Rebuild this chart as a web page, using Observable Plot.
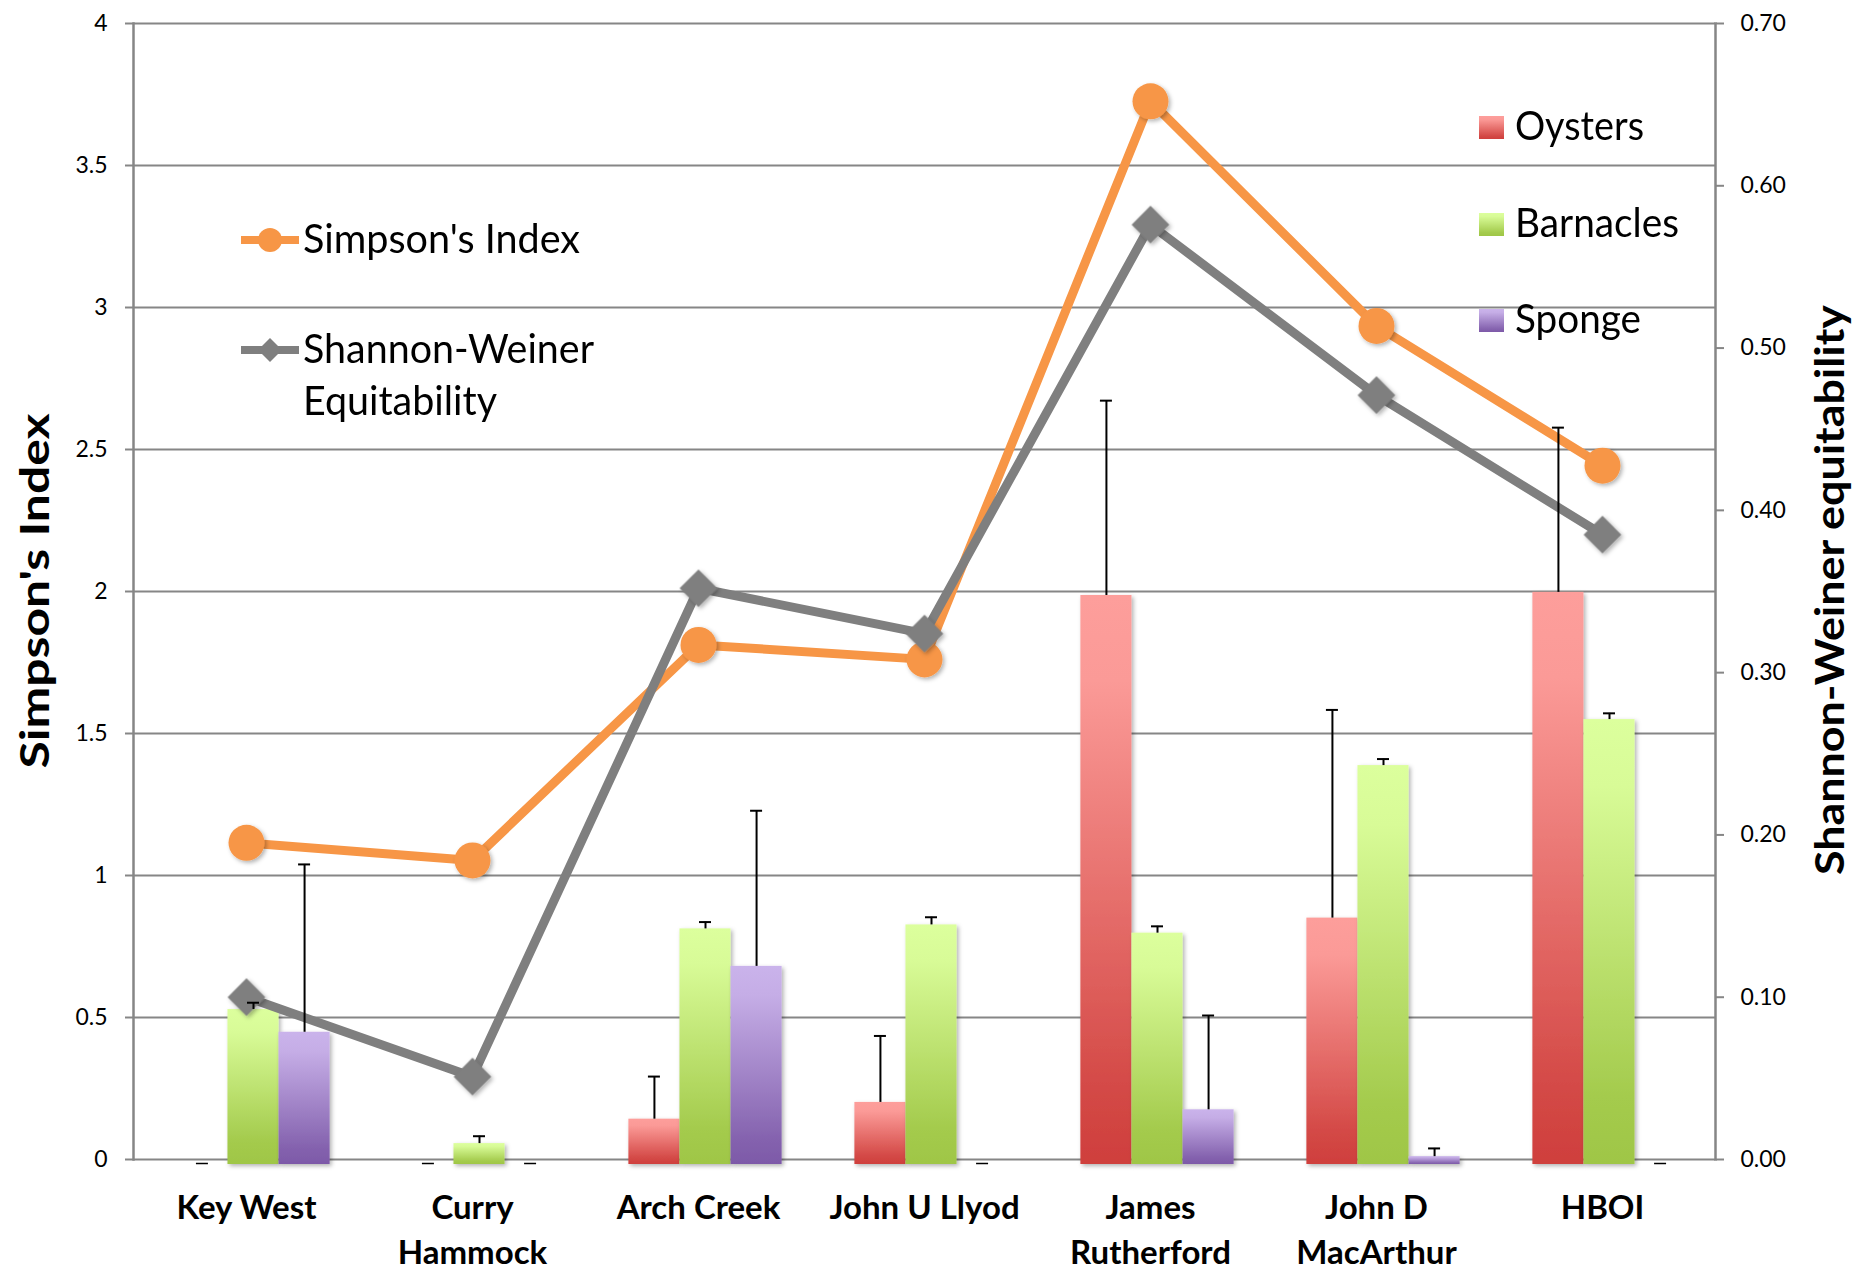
<!DOCTYPE html>
<html>
<head>
<meta charset="utf-8">
<script src="https://cdn.jsdelivr.net/npm/d3@7"></script>
<script src="https://cdn.jsdelivr.net/npm/@observablehq/plot@0.6"></script>
<style>
  html, body { margin: 0; padding: 0; background: #fff; }
  #chart { width: 1855px; height: 1271px; }
</style>
</head>
<body>
<div id="chart"></div>
<script>
// ---- data ----
const sites = ["Key West", "Curry Hammock", "Arch Creek", "John U Llyod", "James Rutherford", "John D MacArthur", "HBOI"];
const siteLabels = ["Key West", "Curry\nHammock", "Arch Creek", "John U Llyod", "James\nRutherford", "John D\nMacArthur", "HBOI"];
const seriesNames = ["Oysters", "Barnacles", "Sponge"];

const oysters      = [0,     0,     0.142, 0.201, 1.986, 0.850, 1.997];
const oystersErr   = [0,     0,     0.150, 0.234, 0.686, 0.733, 0.580];
const barnacles    = [0.528, 0.056, 0.812, 0.826, 0.797, 1.387, 1.549];
const barnaclesErr = [0.024, 0.026, 0.024, 0.027, 0.024, 0.023, 0.022];
const sponge       = [0.448, 0,     0.680, 0,     0.175, 0.010, 0];
const spongeErr    = [0.591, 0,     0.548, 0,     0.332, 0.029, 0];

const simpson = [1.115, 1.053, 1.812, 1.761, 3.726, 2.935, 2.443];
const shannon = [0.100, 0.051, 0.352, 0.324, 0.576, 0.471, 0.385];

const leftTicks  = [0, 0.5, 1, 1.5, 2, 2.5, 3, 3.5, 4];
const rightTicks = [0, 0.1, 0.2, 0.3, 0.4, 0.5, 0.6, 0.7];
const leftMax = 4, rightMax = 0.7;

// ---- derived tables ----
const toLeft = v => v * leftMax / rightMax;
const fromLeft = v => v * rightMax / leftMax;
const seriesVals = [oysters, barnacles, sponge];
const seriesErrs = [oystersErr, barnaclesErr, spongeErr];
const gradIds = ["g-oysters", "g-barnacles", "g-sponge"];
const bars = seriesNames.map((s, si) => sites.map((site, i) => ({
  site, series: s, value: seriesVals[si][i], err: seriesErrs[si][i]
})));
const linePts = sites.map((site, i) => ({site, simpson: simpson[i], shannon: toLeft(shannon[i])}));

// ---- layout ----
const W = 1855, H = 1271;
const mL = 133, mR = 140, mT = 23, mB = 112;
const band = (W - mL - mR) / sites.length;
const barW = band * 0.226;
const pad = (band - 3 * barW) / 2;
const shift = 7;
const grid = "#868686";

const barMarks = [];
const errMarks = [];
seriesNames.forEach((s, si) => {
  const insetLeft = pad + si * barW + shift;
  const insetRight = band - insetLeft - barW;
  const dx = -band / 2 + insetLeft + barW / 2;
  const capL = insetLeft + barW / 2 - 6, capR = insetRight + barW / 2 - 6;
  barMarks.push(Plot.barY(bars[si], {
    filter: d => d.value > 0,
    x: "site", y: "value", fill: `url(#${gradIds[si]})`,
    insetLeft, insetRight, insetBottom: -5
  }));
  errMarks.push(Plot.ruleX(bars[si], {
    filter: d => d.err > 0,
    x: "site", y1: "value", y2: d => d.value + d.err, dx,
    stroke: "black", strokeWidth: 2
  }));
  errMarks.push(Plot.tickY(bars[si], {
    filter: d => d.err > 0,
    x: "site", y: d => d.value + d.err,
    insetLeft: capL, insetRight: capR, stroke: "black", strokeWidth: 2
  }));
  errMarks.push(Plot.tickY(bars[si], {
    filter: d => d.err === 0,
    x: "site", y: d => d.value + d.err, dy: 4,
    insetLeft: capL, insetRight: capR, stroke: "black", strokeWidth: 1.5
  }));
});

const plot = Plot.plot({
  width: W, height: H,
  marginLeft: mL, marginRight: mR, marginTop: mT, marginBottom: mB,
  style: {fontFamily: "Lato, 'Open Sans', sans-serif", background: "#fff", color: "black"},
  x: {type: "band", domain: sites, padding: 0, label: null},
  y: {domain: [0, leftMax], label: null},
  marks: [
    Plot.gridY(leftTicks, {stroke: grid, strokeOpacity: 1, strokeWidth: 2}),
    Plot.frame({anchor: "left", stroke: grid, strokeWidth: 2.5}),
    Plot.frame({anchor: "right", stroke: grid, strokeWidth: 2.5}),
    Plot.axisY({anchor: "left", ticks: leftTicks, tickFormat: d => String(d), tickSize: 8, tickPadding: 18,
      fontSize: 23, stroke: grid, strokeWidth: 2, fill: "black", label: null}),
    Plot.axisY({anchor: "right", ticks: rightTicks.map(toLeft), tickFormat: d => fromLeft(d).toFixed(2),
      tickSize: 8, tickPadding: 17, fontSize: 23, stroke: grid, strokeWidth: 2, fill: "black", label: null}),
    Plot.axisX({anchor: "bottom", tickSize: 0, tickPadding: 28, tickFormat: d => siteLabels[sites.indexOf(d)],
      fontSize: 33, fontWeight: "bold", lineHeight: 1.36, fill: "black", label: null}),
    ...barMarks,
    Plot.line(linePts, {x: "site", y: "simpson", stroke: "#F79646", strokeWidth: 9}),
    Plot.dot(linePts, {x: "site", y: "simpson", symbol: "circle", r: 18, fill: "#F79646"}),
    Plot.line(linePts, {x: "site", y: "shannon", stroke: "#7F7F7F", strokeWidth: 9}),
    Plot.dot(linePts, {x: "site", y: "shannon", symbol: "diamond2", r: 17, fill: "#7F7F7F"}),
    ...errMarks
  ]
});

document.getElementById("chart").appendChild(plot);

// ---- defs: gradients and shadow ----
const svg = d3.select(plot);
const defs = svg.insert("defs", ":first-child");
const grads = {
  "g-oysters":   [["0%", "#FD9E9B"], ["15%", "#FB9A97"], ["88%", "#D34845"], ["100%", "#CF3F3D"]],
  "g-barnacles": [["0%", "#DCFF9D"], ["15%", "#D8FB97"], ["85%", "#A4CB4D"], ["100%", "#9FC646"]],
  "g-sponge":    [["0%", "#CAB3EB"], ["15%", "#C5ADE6"], ["88%", "#8462AE"], ["100%", "#7D59A8"]]
};
for (const [id, stops] of Object.entries(grads)) {
  const g = defs.append("linearGradient").attr("id", id).attr("x1", 0).attr("y1", 0).attr("x2", 0).attr("y2", 1);
  for (const [o, c] of stops) g.append("stop").attr("offset", o).attr("stop-color", c);
}
const f = defs.append("filter").attr("id", "shadow").attr("x", "-20%").attr("y", "-20%").attr("width", "150%").attr("height", "150%");
f.append("feDropShadow").attr("dx", 2).attr("dy", 2).attr("stdDeviation", 2).attr("flood-color", "#000").attr("flood-opacity", 0.3);
svg.selectAll("g[aria-label='bar'], g[aria-label='dot']").attr("filter", "url(#shadow)");

// ---- axis titles ----
svg.append("text").text("Simpson's Index")
  .attr("transform", "translate(34,591) rotate(-90)")
  .attr("text-anchor", "middle").attr("dominant-baseline", "central")
  .attr("font-size", 40).attr("font-weight", "bold")
  .attr("textLength", 355).attr("lengthAdjust", "spacingAndGlyphs");
svg.append("text").text("Shannon-Weiner equitability")
  .attr("transform", "translate(1829,590) rotate(-90)")
  .attr("text-anchor", "middle").attr("dominant-baseline", "central")
  .attr("font-size", 40).attr("font-weight", "bold")
  .attr("textLength", 570).attr("lengthAdjust", "spacingAndGlyphs");

// ---- line legend ----
const lg = svg.append("g").attr("font-size", 40).attr("text-anchor", "start");
lg.append("line").attr("x1", 241).attr("x2", 299).attr("y1", 240).attr("y2", 240).attr("stroke", "#F79646").attr("stroke-width", 8);
lg.append("circle").attr("cx", 270).attr("cy", 240).attr("r", 12).attr("fill", "#F79646");
lg.append("text").text("Simpson's Index").attr("x", 303).attr("y", 253).attr("textLength", 277).attr("lengthAdjust", "spacingAndGlyphs");
lg.append("line").attr("x1", 241).attr("x2", 299).attr("y1", 350).attr("y2", 350).attr("stroke", "#7F7F7F").attr("stroke-width", 8);
lg.append("path").attr("d", "M270,338L282,350L270,362L258,350Z").attr("fill", "#7F7F7F");
lg.append("text").text("Shannon-Weiner").attr("x", 303).attr("y", 363).attr("textLength", 291).attr("lengthAdjust", "spacingAndGlyphs");
lg.append("text").text("Equitability").attr("x", 303).attr("y", 415).attr("textLength", 194).attr("lengthAdjust", "spacingAndGlyphs");

// ---- bar legend ----
const bl = svg.append("g").attr("font-size", 40).attr("text-anchor", "start");
const blY = [140, 237, 333];
const blLen = [129, 164, 126];
seriesNames.forEach((s, i) => {
  bl.append("rect").attr("x", 1479).attr("y", blY[i] - 24).attr("width", 25).attr("height", 23).attr("fill", `url(#${gradIds[i]})`);
  bl.append("text").text(s).attr("x", 1515).attr("y", blY[i]).attr("textLength", blLen[i]).attr("lengthAdjust", "spacingAndGlyphs");
});
</script>
</body>
</html>
